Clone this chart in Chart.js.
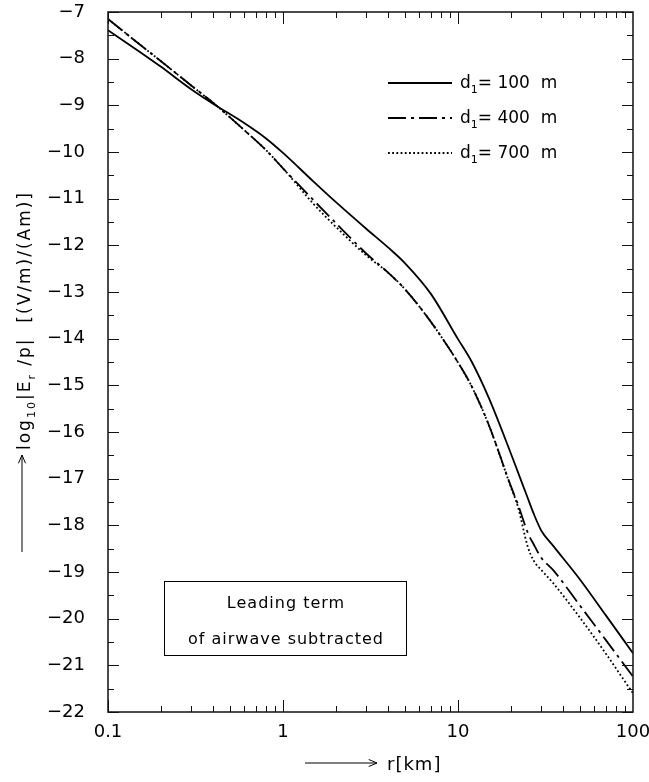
<!DOCTYPE html>
<html>
<head>
<meta charset="utf-8">
<script src="https://cdn.jsdelivr.net/npm/chart.js@4"></script>
<style>
  body { margin: 0; background: #fff; }
  canvas { display: block; }
</style>
</head>
<body>
<canvas id="chart" width="649" height="782"></canvas>
<script>
// distance r in km, values are log10|Er/p| in (V/m)/(Am)
const rKm  = [0.1, 0.15, 0.2, 0.3, 0.4, 0.6, 0.8, 1, 1.5, 2, 3, 4, 5, 7, 10, 12, 15, 20, 22, 25, 27, 30, 35, 50, 70, 100];
const e100 = [-7.39, -7.84, -8.17, -8.66, -8.97, -9.38, -9.71, -10.02, -10.64, -11.07, -11.65, -12.05, -12.39, -13.04, -14.01, -14.50, -15.27, -16.45, -16.86, -17.41, -17.74, -18.12, -18.44, -19.17, -19.93, -20.74];
const e400 = [-7.15, -7.68, -8.05, -8.58, -8.95, -9.53, -9.96, -10.35, -11.04, -11.52, -12.18, -12.59, -12.95, -13.64, -14.51, -15.03, -15.85, -17.15, -17.55, -18.15, -18.40, -18.70, -18.96, -19.73, -20.46, -21.24];
const e700 = [-7.15, -7.68, -8.05, -8.58, -8.95, -9.53, -9.96, -10.35, -11.12, -11.60, -12.22, -12.59, -12.95, -13.64, -14.51, -15.03, -15.85, -17.17, -17.60, -18.45, -18.75, -18.96, -19.24, -19.99, -20.75, -21.60];

const xTicks = [0.1, 1, 10, 100];
const xTickLabels = ['0.1', '1', '10', '100'];
const yTicks = [-7, -8, -9, -10, -11, -12, -13, -14, -15, -16, -17, -18, -19, -20, -21, -22];

const legendItems = [
  { depth: '100', dash: [] },
  { depth: '400', dash: [18, 5, 3, 5] },
  { depth: '700', dash: [1.8, 2.4] }
];

const FONT = '"DejaVu Sans", "Liberation Sans", sans-serif';

function pts(ys) {
  return rKm.map((r, i) => ({ x: r, y: ys[i] }));
}

function line(label, ys, dash) {
  return {
    label: label,
    data: pts(ys),
    borderColor: '#000',
    borderWidth: 1.8,
    borderDash: dash,
    pointRadius: 0,
    cubicInterpolationMode: 'monotone',
    fill: false
  };
}

function arrow(ctx, x1, y1, x2, y2) {
  const ang = Math.atan2(y2 - y1, x2 - x1);
  ctx.beginPath();
  ctx.moveTo(x1, y1);
  ctx.lineTo(x2, y2);
  ctx.moveTo(x2 - 9 * Math.cos(ang - 0.4), y2 - 9 * Math.sin(ang - 0.4));
  ctx.lineTo(x2, y2);
  ctx.lineTo(x2 - 9 * Math.cos(ang + 0.4), y2 - 9 * Math.sin(ang + 0.4));
  ctx.stroke();
}

// text pieces: [text, size, shift down]
function pieces(ctx, list, x, y) {
  for (const [t, size, dy] of list) {
    ctx.font = size + 'px ' + FONT;
    ctx.fillText(t, x, y + dy);
    x += ctx.measureText(t).width;
  }
}

const decorations = {
  id: 'decorations',
  afterDraw(chart) {
    const { ctx, chartArea: a } = chart;
    const x = chart.scales.x, y = chart.scales.y;
    ctx.save();

    // frame
    ctx.strokeStyle = '#111';
    ctx.lineWidth = 1.5;
    ctx.setLineDash([]);
    ctx.strokeRect(a.left, a.top, a.right - a.left, a.bottom - a.top);

    // inward ticks
    ctx.lineWidth = 1;
    ctx.beginPath();
    for (const d of [0.1, 1, 10]) {
      for (let k = 1; k <= 9; k++) {
        const px = Math.round(x.getPixelForValue(d * k)) + 0.5;
        const len = k === 1 ? 12 : 6;
        ctx.moveTo(px, a.bottom); ctx.lineTo(px, a.bottom - len);
        ctx.moveTo(px, a.top); ctx.lineTo(px, a.top + len);
      }
    }
    for (let v = -22; v <= -7; v += 0.5) {
      const py = Math.round(y.getPixelForValue(v)) + 0.5;
      const len = Number.isInteger(v) ? 11 : 6;
      ctx.moveTo(a.left, py); ctx.lineTo(a.left + len, py);
      ctx.moveTo(a.right, py); ctx.lineTo(a.right - len, py);
    }
    ctx.stroke();

    ctx.fillStyle = '#000';
    ctx.strokeStyle = '#000';
    ctx.textBaseline = 'alphabetic';

    // legend
    legendItems.forEach((it, i) => {
      const ly = 83 + i * 35;
      ctx.lineWidth = 1.8;
      ctx.setLineDash(it.dash);
      ctx.beginPath();
      ctx.moveTo(388, ly);
      ctx.lineTo(452, ly);
      ctx.stroke();
      ctx.setLineDash([]);
      ctx.letterSpacing = '0px';
      pieces(ctx, [['d', 17, 0], ['1', 11, 5], ['= ' + it.depth + '  m', 17, 0]], 460, ly + 5);
    });

    // note box
    ctx.lineWidth = 1;
    ctx.strokeRect(164.5, 581.5, 242, 74);
    ctx.font = '16px ' + FONT;
    ctx.letterSpacing = '1px';
    ctx.textAlign = 'center';
    ctx.fillText('Leading term', 286, 608);
    ctx.fillText('of airwave subtracted', 286, 644);
    ctx.textAlign = 'left';

    // x title
    ctx.lineWidth = 1;
    arrow(ctx, 305, 763, 377, 763);
    ctx.font = '18px ' + FONT;
    ctx.letterSpacing = '1px';
    ctx.fillText('r[km]', 387, 770);

    // y title
    arrow(ctx, 22, 552, 22, 455);
    ctx.save();
    ctx.translate(30, 450);
    ctx.rotate(-Math.PI / 2);
    ctx.letterSpacing = '2px';
    pieces(ctx, [['log', 17, 0], ['10', 11, 5], ['|E', 17, 0], ['r', 11, 5], [' /p|  [(V/m)/(Am)]', 17, 0]], 0, 0);
    ctx.restore();

    ctx.restore();
  }
};

new Chart(document.getElementById('chart'), {
  type: 'line',
  data: {
    datasets: [
      line('d1 = 100 m', e100, []),
      line('d1 = 400 m', e400, legendItems[1].dash),
      line('d1 = 700 m', e700, legendItems[2].dash)
    ]
  },
  options: {
    responsive: false,
    animation: false,
    layout: { padding: { top: 12, right: 16, left: 0, bottom: 0 } },
    plugins: { legend: { display: false }, tooltip: { enabled: false } },
    scales: {
      x: {
        type: 'logarithmic',
        min: 0.1,
        max: 100,
        grid: { display: false, drawTicks: false },
        border: { display: false },
        ticks: {
          autoSkip: false,
          maxRotation: 0,
          padding: 10,
          color: '#000',
          font: { family: FONT, size: 18 },
          callback: (v, i) => xTickLabels[i]
        },
        afterBuildTicks: s => { s.ticks = xTicks.map(v => ({ value: v })); },
        afterFit: s => { s.height = 70; s.paddingLeft = 0; s.paddingRight = 0; }
      },
      y: {
        min: -22,
        max: -7,
        grid: { display: false, drawTicks: false },
        border: { display: false },
        ticks: {
          autoSkip: false,
          padding: 23,
          color: '#000',
          font: { family: FONT, size: 18 },
          callback: v => '\u2212' + Math.abs(v)
        },
        afterBuildTicks: s => { s.ticks = yTicks.map(v => ({ value: v })); },
        afterFit: s => { s.width = 108; s.paddingTop = 0; s.paddingBottom = 0; }
      }
    }
  },
  plugins: [decorations]
});
</script>
</body>
</html>
